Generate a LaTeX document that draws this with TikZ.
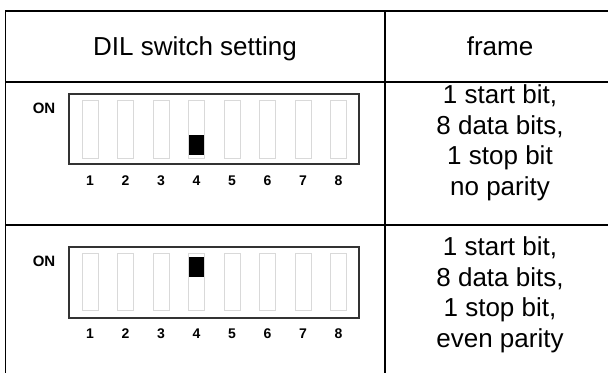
\documentclass[tikz,border=0pt]{standalone}
\usepackage{fontspec}
\setmainfont{Liberation Sans}
\usepackage{tikz}

\begin{document}
\begin{tikzpicture}[x=1pt,y=1pt,yscale=-1,xscale=1,
  cell/.style={anchor=base,inner sep=0pt,align=center,font=\fontsize{26}{30.5}\selectfont},
  pin/.style={anchor=base,inner sep=0pt,font=\fontsize{14}{14}\selectfont\bfseries},
  dilbox/.style={draw=black!80,line width=1.6},
  slot/.style={draw=black!15,line width=1}]
\useasboundingbox (0,0) rectangle (608,373);
%Table
\draw [line width=1.3] (608,11) -- (5.5,11) -- (5.5,373);
\draw [line width=1.3] (385,11) -- (385,373);
\draw [line width=1.3] (5.5,82) -- (608,82);
\draw [line width=1.3] (5.5,225) -- (608,225);
%Text
\node [cell] (hdil) at (195,55) {DIL switch setting};
\node [cell] (hframe) at (500,55) {frame};
\node [cell] (fnone) at (500,195) {1 start bit,\\8 data bits,\\1 stop bit\\no parity};
\node [cell] (feven) at (500,347) {1 start bit,\\8 data bits,\\1 stop bit,\\even parity};
%Switches
\draw [dilbox] (69,94) rectangle (359,164);
\draw [dilbox] (69,247) rectangle (359,318);
\foreach \i in {1,...,8}{
  \draw [slot] ({82+35.5*(\i-1)},100) rectangle ++(16,58);
  \draw [slot] ({82+35.5*(\i-1)},253) rectangle ++(16,57);
  \node [pin] (pa\i) at ({90+35.5*(\i-1)},185) {\i};
  \node [pin] (pb\i) at ({90+35.5*(\i-1)},338) {\i};
}
\fill (189,135) rectangle (204,155);
\fill (189,257) rectangle (204,277);
\node [pin,anchor=center,font=\fontsize{15}{15}\selectfont\bfseries] (ona) at (44,108) {ON};
\node [pin,anchor=center,font=\fontsize{15}{15}\selectfont\bfseries] (onb) at (44,261) {ON};
\end{tikzpicture}
\end{document}
